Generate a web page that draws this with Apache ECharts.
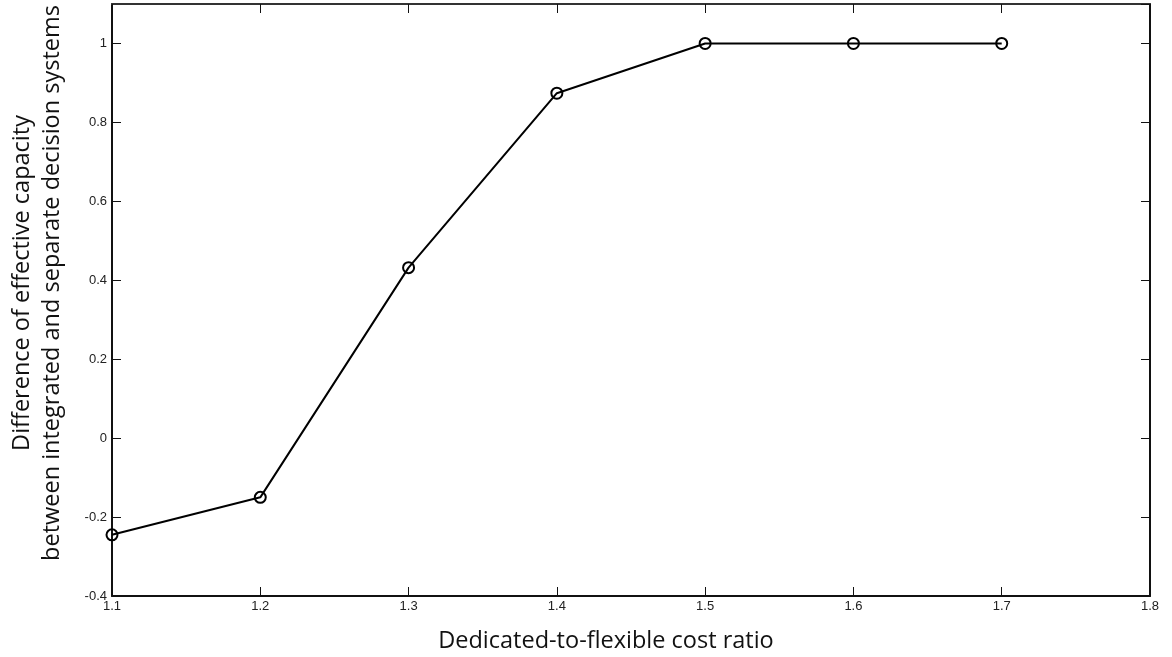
<!DOCTYPE html>
<html>
<head>
<meta charset="utf-8">
<script src="https://cdn.jsdelivr.net/npm/echarts@6/dist/echarts.min.js"></script>
<style>
  html, body { margin: 0; padding: 0; background: #fff; }
  #chart { width: 1172px; height: 657px; }
</style>
</head>
<body>
<div id="chart"></div>
<script>
// cost ratio vs difference of effective capacity
const costRatio = [1.1, 1.2, 1.3, 1.4, 1.5, 1.6, 1.7];
const capacityDiff = [-0.245, -0.15, 0.432, 0.874, 1, 1, 1];

const xTitle = 'Dedicated-to-flexible cost ratio';
const yTitle = 'Difference of effective capacity\nbetween integrated and separate decision systems';

const myChart = echarts.init(document.getElementById('chart'));

const labelStyle = { color: '#222', fontFamily: 'Liberation Sans', fontSize: 13 };
const tick = { inside: true, length: 9, lineStyle: { color: '#111' } };

const option = {
  animation: false,
  grid: { left: 112, top: 4, right: 22, bottom: 61, containLabel: false, outerBoundsMode: 'none' },
  xAxis: [
    {
      type: 'value', min: 1.1, max: 1.8, interval: 0.1,
      axisLine: { onZero: false, lineStyle: { color: '#111', width: 2 } },
      axisTick: tick,
      axisLabel: Object.assign({ margin: 4 }, labelStyle),
      splitLine: { show: false },
      name: xTitle, nameLocation: 'middle', nameGap: 33,
      nameTextStyle: { fontFamily: 'Open Sans', fontSize: 23.5, color: '#111', padding: [0, 50, 0, 0] }
    },
    {
      type: 'value', position: 'top', min: 1.1, max: 1.8, interval: 0.1,
      axisLine: { onZero: false, lineStyle: { color: '#333', width: 2 } },
      axisTick: tick,
      axisLabel: { show: false },
      splitLine: { show: false }
    }
  ],
  yAxis: [
    {
      type: 'value', min: -0.4, max: 1.1, interval: 0.2,
      axisLine: { onZero: false, lineStyle: { color: '#111', width: 2 } },
      axisTick: tick,
      axisLabel: Object.assign({ margin: 5, showMaxLabel: false }, labelStyle),
      splitLine: { show: false },
      name: yTitle, nameLocation: 'middle', nameGap: 45, nameRotate: 90,
      nameTextStyle: { fontFamily: 'Open Sans', fontSize: 23.5, color: '#111', lineHeight: 30, padding: [0, 0, 0, 34] }
    },
    {
      type: 'value', position: 'right', min: -0.4, max: 1.1, interval: 0.2,
      axisLine: { onZero: false, lineStyle: { color: '#111', width: 2 } },
      axisTick: tick,
      axisLabel: { show: false },
      splitLine: { show: false }
    }
  ],
  series: [
    {
      type: 'line',
      data: costRatio.map((x, i) => [x, capacityDiff[i]]),
      symbol: 'circle',
      symbolSize: 11,
      lineStyle: { color: '#000', width: 2 },
      itemStyle: { color: 'rgba(0,0,0,0)', borderColor: '#000', borderWidth: 2 }
    }
  ]
};

myChart.setOption(option);
</script>
</body>
</html>
